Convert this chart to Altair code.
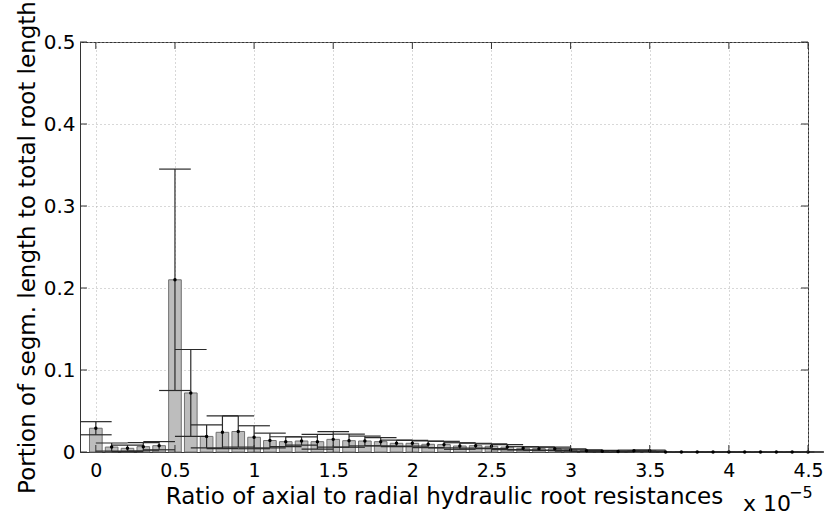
import altair as alt
import pandas as pd

positions = [0.0, 0.1, 0.2, 0.3, 0.4, 0.5, 0.6, 0.7, 0.8, 0.9,
             1.0, 1.1, 1.2, 1.3, 1.4, 1.5, 1.6, 1.7, 1.8, 1.9,
             2.0, 2.1, 2.2, 2.3, 2.4, 2.5, 2.6, 2.7, 2.8, 2.9,
             3.0, 3.1, 3.2, 3.3, 3.4, 3.5, 3.6, 3.7, 3.8, 3.9,
             4.0, 4.1, 4.2, 4.3, 4.4, 4.5]
means = [0.029, 0.006, 0.0045, 0.0065, 0.0077, 0.210, 0.072, 0.019, 0.024, 0.025,
         0.018, 0.014, 0.0126, 0.0134, 0.0126, 0.0154, 0.0138, 0.0134, 0.0126, 0.0106,
         0.0106, 0.0094, 0.0090, 0.0073, 0.0077, 0.0070, 0.0060, 0.0045, 0.0041, 0.0040,
         0.0024, 0.0016, 0.0010, 0.0006, 0.0015, 0.0015, 0.0, 0.0, 0.0, 0.0,
         0.0, 0.0, 0.0, 0.0, 0.0, 0.0]
errs = [0.008, 0.005, 0.004, 0.005, 0.005, 0.135, 0.053, 0.014, 0.020, 0.019,
        0.014, 0.009, 0.006, 0.005, 0.009, 0.0095, 0.008, 0.006, 0.005, 0.004,
        0.0035, 0.004, 0.004, 0.004, 0.003, 0.003, 0.003, 0.002, 0.002, 0.002,
        0.0015, 0.001, 0.001, 0.0006, 0.0008, 0.0008, 0.0, 0.0, 0.0, 0.0,
        0.0, 0.0, 0.0, 0.0, 0.0, 0.0]
x_ticks = [0, 0.5, 1, 1.5, 2, 2.5, 3, 3.5, 4, 4.5]
y_ticks = [0, 0.1, 0.2, 0.3, 0.4, 0.5]

x_title = "Ratio of axial to radial hydraulic root resistances"
y_title = "Portion of segm. length to total root length"

FONT = "DejaVu Sans"
df = pd.DataFrame({"pos": positions, "mean": means, "err": errs})

xscale = alt.Scale(domain=[-0.1, 4.5], nice=False, zero=False, padding=0)
yscale = alt.Scale(domain=[0, 0.5], nice=False, zero=False, padding=0)

xaxis = alt.Axis(values=x_ticks, format="~g", title=x_title, grid=True,
                 gridDash=[1, 3], gridColor="#b0b0b0", ticks=False,
                 labelFlush=False, labelOverlap=False,
                 labelPadding=9, labelFontSize=19, titleFontSize=23,
                 titleY=51, titleBaseline="alphabetic")
yaxis = alt.Axis(values=y_ticks, format="~g", title=y_title, grid=True,
                 gridDash=[1, 3], gridColor="#b0b0b0", ticks=False,
                 labelFlush=False, labelOverlap=False,
                 labelPadding=5, labelFontSize=20, titleFontSize=23,
                 titleX=-46, titleY=205, titleAngle=-90, titleAlign="center",
                 titleBaseline="alphabetic")

base = alt.Chart(df).transform_calculate(
    lo="max(0, datum.mean - datum.err)",
    hi="datum.mean + datum.err",
    xl="datum.pos - 0.04",
    xr="datum.pos + 0.04",
    cl="datum.pos - 0.1",
    cr="datum.pos + 0.1",
)

bars = base.mark_bar(color="#bdbdbd", stroke="#707070", strokeWidth=1).encode(
    x=alt.X("xl:Q", scale=xscale, axis=xaxis),
    x2="xr:Q",
    y=alt.Y("mean:Q", scale=yscale, axis=yaxis),
    y2=alt.datum(0),
)

vlines = base.mark_rule(color="#2a2a2a", strokeWidth=1.2).encode(
    x=alt.X("pos:Q", scale=xscale, axis=xaxis),
    y=alt.Y("lo:Q", scale=yscale, axis=yaxis),
    y2="hi:Q",
)
caps_hi = base.mark_rule(color="#2a2a2a", strokeWidth=1.2).encode(
    x=alt.X("cl:Q", scale=xscale, axis=xaxis),
    x2="cr:Q",
    y=alt.Y("hi:Q", scale=yscale, axis=yaxis),
)
caps_lo = base.mark_rule(color="#2a2a2a", strokeWidth=1.2).encode(
    x=alt.X("cl:Q", scale=xscale, axis=xaxis),
    x2="cr:Q",
    y=alt.Y("lo:Q", scale=yscale, axis=yaxis),
)
dots = base.mark_point(filled=True, color="black", size=12, opacity=1).encode(
    x=alt.X("pos:Q", scale=xscale, axis=xaxis),
    y=alt.Y("mean:Q", scale=yscale, axis=yaxis),
)

# inward tick marks (MATLAB style)
xt = pd.DataFrame({"t": x_ticks})
yt = pd.DataFrame({"t": y_ticks})
xticks_bottom = alt.Chart(xt).mark_rule(color="#333333").encode(
    x=alt.X("t:Q", scale=xscale, axis=xaxis), y=alt.value(410), y2=alt.value(403))
xticks_top = alt.Chart(xt).mark_rule(color="#333333").encode(
    x=alt.X("t:Q", scale=xscale, axis=xaxis), y=alt.value(0), y2=alt.value(7))
yticks_left = alt.Chart(yt).mark_rule(color="#333333").encode(
    y=alt.Y("t:Q", scale=yscale, axis=yaxis), x=alt.value(0), x2=alt.value(7))
yticks_right = alt.Chart(yt).mark_rule(color="#333333").encode(
    y=alt.Y("t:Q", scale=yscale, axis=yaxis), x=alt.value(728), x2=alt.value(721))

exp_base = alt.Chart(pd.DataFrame({"a": [1]})).mark_text(
    text="x 10", font=FONT, fontSize=22, align="left", baseline="alphabetic",
    color="black").encode(x=alt.value(663), y=alt.value(469))
exp_sup = alt.Chart(pd.DataFrame({"a": [1]})).mark_text(
    text="\u22125", font=FONT, fontSize=16, align="left", baseline="alphabetic",
    color="black").encode(x=alt.value(709), y=alt.value(456))

chart = alt.layer(
    bars, vlines, caps_hi, caps_lo, dots,
    xticks_bottom, xticks_top, yticks_left, yticks_right,
    exp_base, exp_sup,
).properties(
    width=728, height=410,
    autosize=alt.AutoSizeParams(type="none"),
    padding={"left": 80, "top": 42, "right": 21, "bottom": 66},
    background="white",
).configure_view(
    stroke="#333333", strokeWidth=1
).configure_axis(
    labelFont=FONT, titleFont=FONT, labelColor="black", titleColor="black",
    titleFontWeight="normal", domainColor="#333333", domainWidth=1,
)

chart.save("out.html", embed_options={"renderer": "svg", "actions": False})
